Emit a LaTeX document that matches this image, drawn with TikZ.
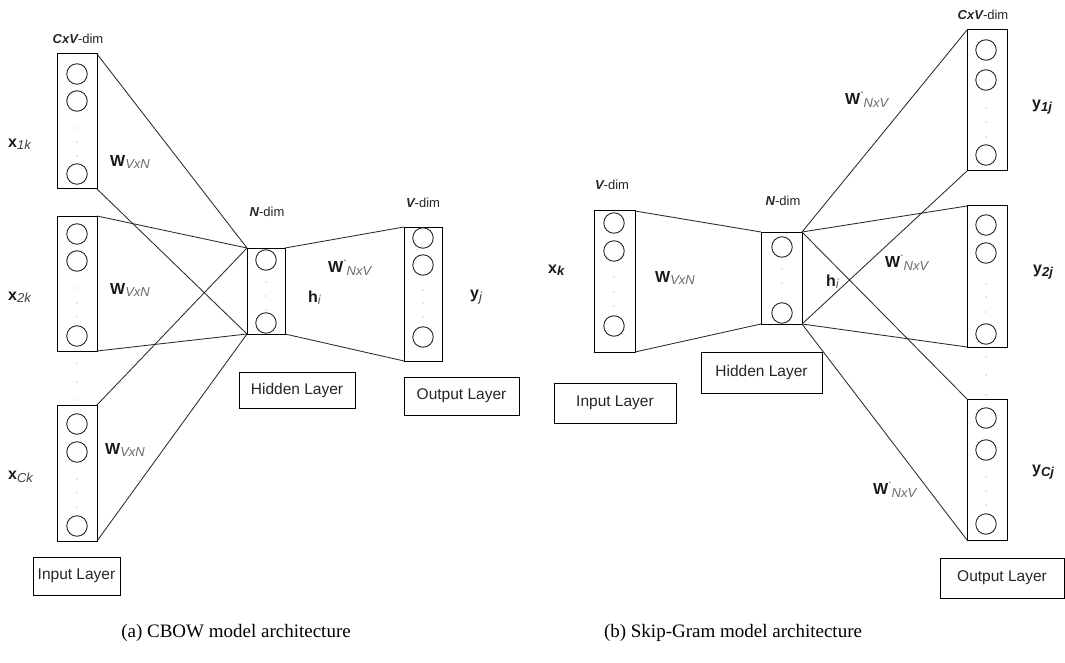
\documentclass[tikz,border=0pt]{standalone}
\usepackage{fontspec}
\setmainfont{Liberation Sans}
\newfontfamily\capfont{Liberation Serif}
\newfontfamily\tickfont{Liberation Sans}[Ligatures=TeXOff]
\definecolor{subgray}{HTML}{6A6A6A}
\definecolor{subdark}{HTML}{404040}
\definecolor{linecol}{HTML}{2A2A2A}
\newcommand\fs[1]{\fontsize{#1}{#1}\selectfont}
\newcommand\symlab[3]{{\fs{16}\bfseries #1}\raisebox{-0.45ex}{\fs{13}#2#3}}
\newcommand\wprime{{\fs{16}\bfseries W}\raisebox{0.85ex}{\fs{10}\tickfont `}\raisebox{-0.55ex}{\fs{13}\itshape\color{subgray}NxV}}
\newcommand\dimlab[2]{{\bfseries\itshape #1}#2}
\tikzset{
  layerbox/.style={draw=black, line width=1pt, inner sep=0pt, outer sep=0pt, minimum width=40pt},
  neuron/.style={circle, draw=black!85, line width=0.9pt, minimum size=20.5pt, inner sep=0pt},
  conn/.style={draw=linecol, line width=0.85pt},
  lbox/.style={draw=black, line width=1pt, inner sep=0pt, outer sep=0pt, font=\fs{15.5}, text=black!85},
  dimtext/.style={font=\fs{13}, text=black!85, inner sep=0pt},
  symtext/.style={anchor=west, inner sep=0pt, text=black!90},
  captext/.style={font=\capfont\fs{19}, inner sep=0pt},
  vdot/.style={fill=black!40}
}
\begin{document}
\begin{tikzpicture}[x=1pt, y=-1pt]
\path[use as bounding box, fill=white] (0,0) rectangle (1065,663);

% ===== CBOW =====
\node[layerbox, minimum height=135pt] (in1) at (77,121.5) {};
\node[layerbox, minimum height=135pt] (in2) at (77,283.5) {};
\node[layerbox, minimum height=136pt] (in3) at (77,473) {};
\node[layerbox, minimum width=38pt, minimum height=86pt] (hid) at (266,291) {};
\node[layerbox, minimum width=38pt, minimum height=134pt] (out) at (423,294) {};

\foreach \n/\y in {a/74,b/101,c/174} \node[neuron] (in1\n) at (77,\y) {};
\foreach \n/\y in {a/234,b/261,c/336} \node[neuron] (in2\n) at (77,\y) {};
\foreach \n/\y in {a/424,b/452,c/526} \node[neuron] (in3\n) at (77,\y) {};
\foreach \n/\y in {a/260,b/323} \node[neuron] (hid\n) at (266,\y) {};
\foreach \n/\y in {a/238,b/265,c/337} \node[neuron] (out\n) at (423,\y) {};

\foreach \y in {128,142,156, 288,303,317, 479,493,507, 363,382,400} \fill[vdot] (77,\y) circle (0.7);
\foreach \y in {282,296,310} \fill[vdot] (266,\y) circle (0.7);
\foreach \y in {290,303,317} \fill[vdot] (423,\y) circle (0.7);

\draw[conn] (in1.north east) -- (hid.north west);
\draw[conn] (in1.south east) -- (hid.south west);
\draw[conn] (in2.north east) -- (hid.north west);
\draw[conn] (in2.south east) -- (hid.south west);
\draw[conn] (in3.north east) -- (hid.north west);
\draw[conn] (in3.south east) -- (hid.south west);
\draw[conn] (hid.north east) -- (out.north west);
\draw[conn] (hid.south east) -- (out.south west);

\node[dimtext] (dimin) at (78,39) {\dimlab{CxV}{-dim}};
\node[dimtext] (dimhid) at (267,212) {\dimlab{N}{-dim}};
\node[dimtext] (dimout) at (423,203) {\dimlab{V}{-dim}};

\node[symtext] (x1k) at (8,144) {\symlab{x}{\itshape\color{subdark}}{1k}};
\node[symtext] (x2k) at (8,297) {\symlab{x}{\itshape\color{subdark}}{2k}};
\node[symtext] (xck) at (8,477) {\symlab{x}{\itshape\color{subdark}}{Ck}};
\node[symtext] (w1) at (110,162) {\symlab{W}{\itshape\color{subgray}}{VxN}};
\node[symtext] (w2) at (110,290) {\symlab{W}{\itshape\color{subgray}}{VxN}};
\node[symtext] (w3) at (105,450) {\symlab{W}{\itshape\color{subgray}}{VxN}};
\node[symtext] (wo) at (328,268) {\wprime};
\node[symtext] (hi) at (308,298) {\symlab{h}{\itshape\color{subgray}}{i}};
\node[symtext] (yj) at (470,297) {\symlab{y}{\itshape\color{subdark}}{j}};

\node[lbox, minimum width=87pt, minimum height=38pt] (inlab) at (76.5,576) {Input Layer};
\node[lbox, minimum width=116pt, minimum height=36pt] (hidlab) at (297,390) {Hidden Layer};
\node[lbox, minimum width=115pt, minimum height=38pt] (outlab) at (461.5,396) {Output Layer};

\node[captext] (capa) at (236,633) {(a) CBOW model architecture};

% ===== Skip-Gram =====
\node[layerbox, minimum width=41pt, minimum height=141pt] (sin) at (614.5,281.5) {};
\node[layerbox, minimum width=41pt, minimum height=92pt] (shid) at (781.5,278) {};
\node[layerbox, minimum height=141pt] (so1) at (987,100.5) {};
\node[layerbox, minimum height=141pt] (so2) at (987,276.5) {};
\node[layerbox, minimum height=141pt] (so3) at (987,469.5) {};

\foreach \n/\y in {a/223,b/251,c/326} \node[neuron] (sin\n) at (614,\y) {};
\foreach \n/\y in {a/247,b/313} \node[neuron] (shid\n) at (782,\y) {};
\foreach \n/\y in {a/50,b/80,c/155} \node[neuron] (so1\n) at (986,\y) {};
\foreach \n/\y in {a/225,b/253,c/334} \node[neuron] (so2\n) at (986,\y) {};
\foreach \n/\y in {a/418,b/450,c/524} \node[neuron] (so3\n) at (986,\y) {};

\foreach \y in {277,292,306} \fill[vdot] (614,\y) circle (0.7);
\foreach \y in {269,283,298} \fill[vdot] (782,\y) circle (0.7);
\foreach \y in {108,122,137, 284,297,312, 477,491,505, 357,375,395} \fill[vdot] (986,\y) circle (0.7);

\draw[conn] (sin.north east) -- (shid.north west);
\draw[conn] (sin.south east) -- (shid.south west);
\draw[conn] (shid.north east) -- (so1.north west);
\draw[conn] (shid.north east) -- (so2.north west);
\draw[conn] (shid.north east) -- (so3.north west);
\draw[conn] (shid.south east) -- (so1.south west);
\draw[conn] (shid.south east) -- (so2.south west);
\draw[conn] (shid.south east) -- (so3.south west);

\node[dimtext] (sdimin) at (612,185) {\dimlab{V}{-dim}};
\node[dimtext] (sdimhid) at (783,201) {\dimlab{N}{-dim}};
\node[dimtext] (sdimout) at (983,15) {\dimlab{CxV}{-dim}};

\node[symtext] (xk) at (548,270) {\symlab{x}{\bfseries\itshape}{k}};
\node[symtext] (sw) at (655,278) {\symlab{W}{\itshape\color{subgray}}{VxN}};
\node[symtext] (shi) at (826,282) {\symlab{h}{\itshape\color{subgray}}{i}};
\node[symtext] (swo1) at (845,100) {\wprime};
\node[symtext] (swo2) at (885,263) {\wprime};
\node[symtext] (swo3) at (873,490) {\wprime};
\node[symtext] (y1j) at (1032,107) {\symlab{y}{\bfseries\itshape}{1j}};
\node[symtext] (y2j) at (1033,272) {\symlab{y}{\bfseries\itshape}{2j}};
\node[symtext] (ycj) at (1032,472) {\symlab{y}{\bfseries\itshape}{Cj}};

\node[lbox, minimum width=122pt, minimum height=40pt] (sinlab) at (615,403) {Input Layer};
\node[lbox, minimum width=121pt, minimum height=41pt] (shidlab) at (761.5,372.5) {Hidden Layer};
\node[lbox, minimum width=124pt, minimum height=40pt] (soutlab) at (1002,578) {Output Layer};

\node[captext] (capb) at (733,633) {(b) Skip-Gram model architecture};
\end{tikzpicture}
\end{document}
